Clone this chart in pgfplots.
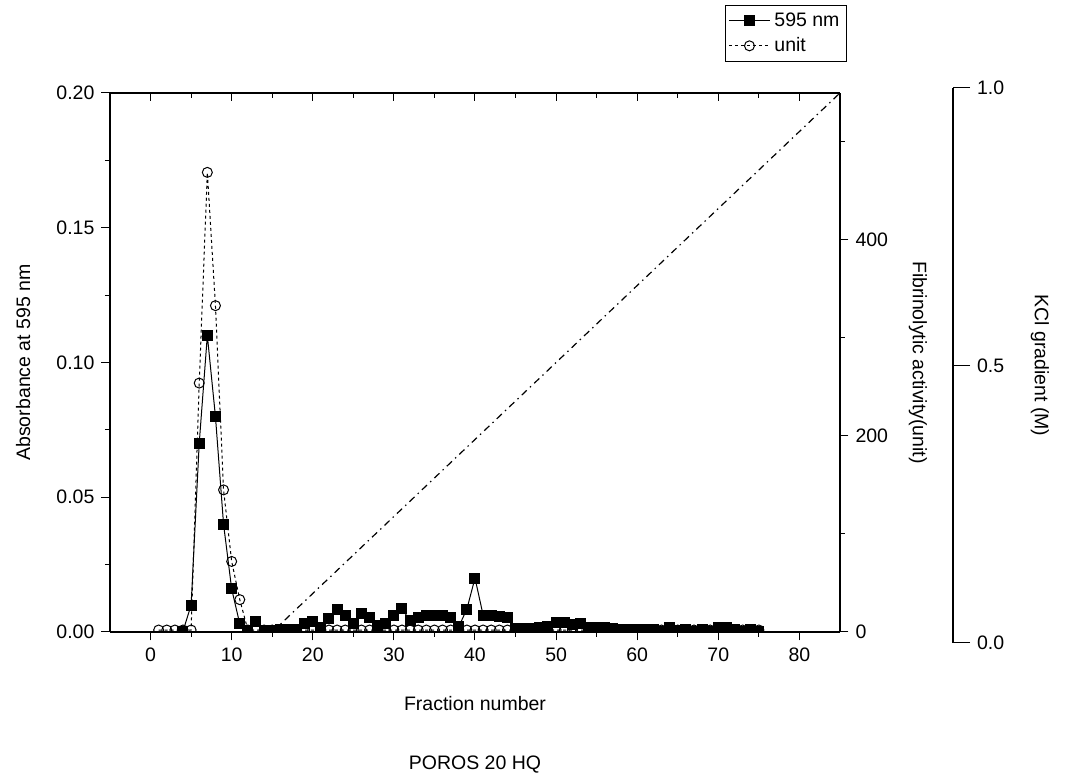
\documentclass[border=0pt]{standalone}
\usepackage{pgfplots}
\usepackage{pgfplotstable}
\pgfplotsset{compat=1.18}
\usepackage{fontspec}
\setmainfont{Liberation Sans}

\pgfplotstableread{
x y
4 0.0003
5 0.010
6 0.070
7 0.110
8 0.080
9 0.040
10 0.016
11 0.003
12 0.0005
13 0.004
14 0.0005
15 0.0005
16 0.001
17 0.001
18 0.001
19 0.003
20 0.004
21 0.0015
22 0.005
23 0.0085
24 0.006
25 0.003
26 0.007
27 0.0053
28 0.0023
29 0.0032
30 0.006
31 0.0086
32 0.0042
33 0.0055
34 0.006
35 0.0063
36 0.0062
37 0.0055
38 0.002
39 0.0085
40 0.020
41 0.0063
42 0.006
43 0.0057
44 0.0052
45 0.0012
46 0.0012
47 0.0012
48 0.0015
49 0.002
50 0.0037
51 0.0035
52 0.0028
53 0.003
54 0.0018
55 0.0018
56 0.0018
57 0.0012
58 0.0008
59 0.0008
60 0.0008
61 0.0008
62 0.0008
63 0.0001
64 0.0018
65 0.0005
66 0.0008
67 0.0002
68 0.0008
69 0.0003
70 0.0015
71 0.0018
72 0.0008
73 0.0002
74 0.0008
75 0.0003
}\absdata

\pgfplotstableread{
x y
1 2
2 2
3 2
4 2
5 2
6 254
7 469
8 333
9 145
10 72
11 33
12 2
13 2
14 2
15 2
16 2
17 2
18 2
19 2
20 2
21 2
22 2
23 2
24 2
25 2
26 2
27 2
28 2
29 2
30 2
31 2
32 2
33 2
34 2
35 2
36 2
37 2
38 2
39 2
40 2
41 2
42 2
43 2
44 2
45 2
46 2
47 2
48 2
49 2
50 2
51 2
52 2
53 2
54 2
55 2
56 2
57 2
58 2
59 2
60 2
61 2
62 2
63 2
64 2
65 2
66 2
67 2
68 2
69 2
70 2
71 2
72 2
73 2
74 2
75 2
}\unitdata

\pgfplotstableread{
x y
15 0
85 1
}\kcldata

\begin{document}
\begin{tikzpicture}
\useasboundingbox (0,0) rectangle (533.5pt,390.5pt);
\pgfplotsset{
  every axis/.append style={
    scale only axis, width=365pt, height=269.5pt,
    font=\fontsize{9.75}{11.7}\selectfont,
    /pgf/number format/assume math mode=true,
    major tick length=4.25pt, minor tick length=2.5pt,
    xmin=-5, xmax=85,
    every tick/.style={black, line width=0.5pt},
    axis line style={line width=0.6pt, -},
  }
}
% main (left) axis
\begin{axis}[at={(55pt,74.5pt)}, anchor=south west,
  axis x line*=bottom, axis y line*=left, tick align=outside,
  ymin=0, ymax=0.2,
  ytick={0,0.05,0.1,0.15,0.2},
  minor ytick={0.025,0.075,0.125,0.175},
  xtick={0,10,20,30,40,50,60,70,80},
  minor xtick={5,15,25,35,45,55,65,75},
  yticklabel style={/pgf/number format/.cd, fixed, fixed zerofill, precision=2},
  xlabel={Fraction number},
  ylabel={Absorbance at 595 nm},
  every axis x label/.style={at={(axis description cs:0.5,-0.1336)}, anchor=center},
  every axis y label/.style={at={(axis description cs:-0.119,0.5)}, rotate=90, anchor=center},
  clip marker paths=true,
  extra description/.code={\node[anchor=center] at (0.5,-0.2468) {POROS 20 HQ};},
]
\addplot[black, line width=0.5pt, mark=square*, mark size=2.5pt, mark options={solid, fill=black}] table[x=x,y=y] {\absdata};
\end{axis}

% gradient axis (top spine)
\begin{axis}[at={(55pt,74.5pt)}, anchor=south west,
  axis x line*=top, axis y line=none, tick align=inside,
  ymin=0, ymax=1,
  xtick={0,10,20,30,40,50,60,70,80},
  minor xtick={5,15,25,35,45,55,65,75},
  xticklabels={},
]
\addplot[black, line width=0.6pt, dash pattern=on 3.5pt off 2.2pt on 0.7pt off 2.2pt] table[x=x,y=y] {\kcldata};
\end{axis}

% fibrinolytic activity axis (right)
\begin{axis}[at={(55pt,74.5pt)}, anchor=south west,
  axis y line*=right, axis x line=none, tick align=outside,
  ymin=0, ymax=550,
  ytick={0,200,400}, minor ytick={100,300,500},
  ylabel={Fibrinolytic activity(unit)},
  every axis y label/.style={at={(axis description cs:1.1068,0.5)}, rotate=-90, anchor=center},
  clip marker paths=true,
  legend style={at={(axis description cs:1.0096,1.163)}, anchor=north east,
    draw=black, line width=0.5pt, inner sep=1.5pt, row sep=0pt,
    font=\fontsize{9.75}{11.7}\selectfont},
  legend cell align=left,
  legend image code/.code={
    \draw[mark repeat=2,mark phase=2] plot coordinates {(0cm,0cm) (0.36cm,0cm) (0.72cm,0cm)};
  },
]
\addlegendimage{black, line width=0.5pt, mark=square*, mark size=2.5pt, mark options={solid, fill=black}}
\addlegendentry{595 nm}
\addplot[black, line width=0.5pt, dash pattern=on 1.5pt off 1.5pt, mark=o, mark size=2.5pt, mark options={solid, fill=white}] table[x=x,y=y] {\unitdata};
\addlegendentry{unit}
\end{axis}

% KCl gradient spine
\begin{axis}[at={(476.5pt,69pt)}, anchor=south east,
  width=10pt, height=277.5pt,
  axis y line*=right, axis x line=none, tick align=outside,
  major tick length=8.5pt,
  xmin=0, xmax=1, ymin=0, ymax=1,
  ytick={0,0.5,1},
  yticklabel style={/pgf/number format/.cd, fixed, fixed zerofill, precision=1},
  ylabel={KCl gradient (M)},
  every axis y label/.style={at={(axis description cs:5.35,0.5)}, rotate=-90, anchor=center},
]
\addplot[draw=none] coordinates {(0,0) (1,1)};
\end{axis}
\end{tikzpicture}
\end{document}
